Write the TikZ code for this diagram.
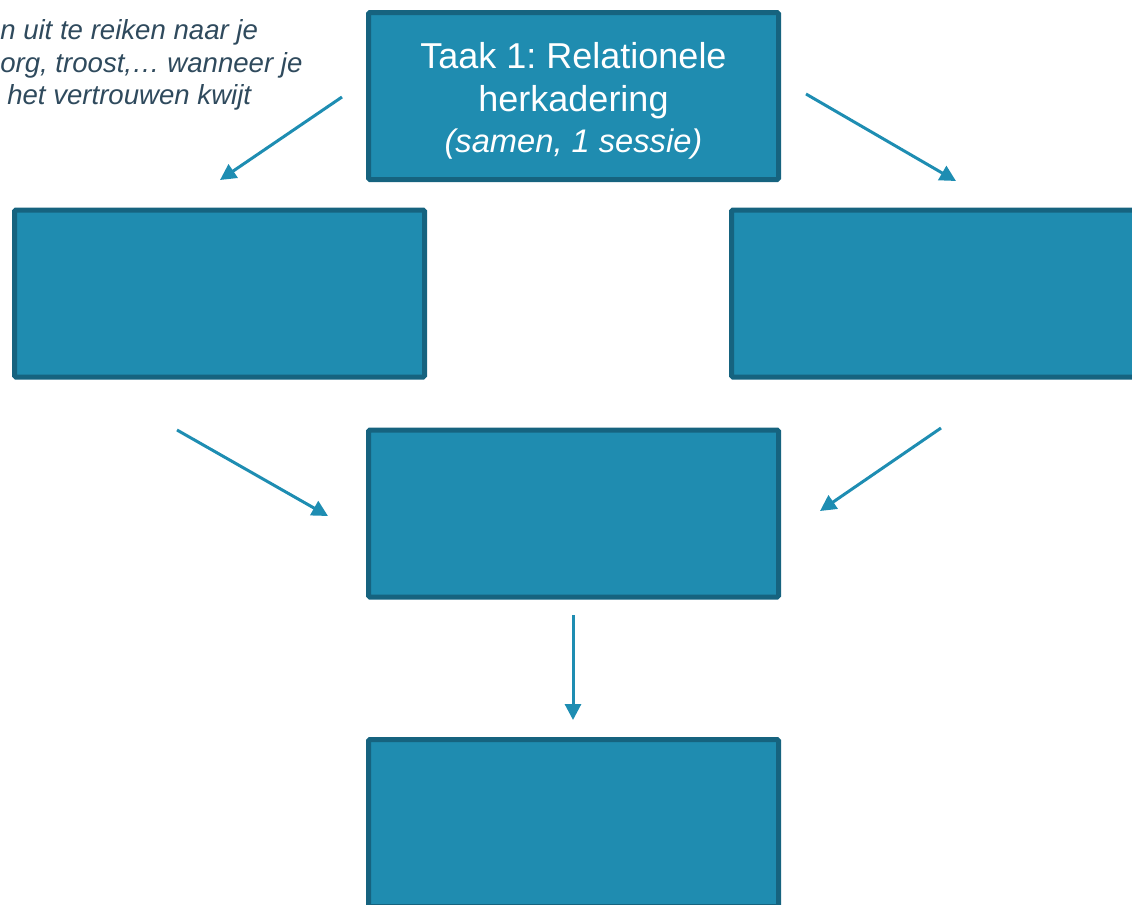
\documentclass[tikz,border=0pt]{standalone}
\usepackage{fontspec}
\setmainfont{Liberation Sans}
\usetikzlibrary{arrows.meta}
\definecolor{taakfill}{HTML}{1F8CB0}
\definecolor{taakrand}{HTML}{16637F}
\definecolor{pijlkleur}{HTML}{1E8DB2}
\definecolor{notitie}{HTML}{2F4A5D}
\frenchspacing

\begin{document}
\begin{tikzpicture}[x=0.75pt,y=0.75pt,yscale=-1,xscale=1,
    taak/.style={draw=taakrand, fill=taakfill, line width=3.75pt, rounded corners=1pt, minimum width=307.5pt, minimum height=125.25pt, inner sep=0pt, text=white, align=center, font=\fontsize{27}{32}\selectfont},
    pijl/.style={draw=pijlkleur, line width=2.25pt, -{Triangle[length=12pt,width=12pt]}}]
    \useasboundingbox (0,0) rectangle (1132,904);
    \clip (0,0) rectangle (1132,904);

    %Shape: Rectangle
    \node [taak] (taak1) at (573.5,96) {\rule{0pt}{27pt}Taak 1: Relationele\\herkadering\\[-1pt]{\itshape\fontsize{24.5}{29}\selectfont (samen, 1 sessie)}};
    %Shape: Rectangle
    \node [taak] (links) at (219.5,293.5) {};
    %Shape: Rectangle
    \node [taak] (rechts) at (936.5,293.5) {};
    %Shape: Rectangle
    \node [taak] (midden) at (573.5,513.5) {};
    %Shape: Rectangle
    \node [taak] (onder) at (573.5,823) {};

    % Text Node
    \node [anchor=north west, inner sep=0pt, align=left, text=notitie, font=\itshape\fontsize{20.7}{24.2}\selectfont] (notitie) at (0,19.5) {n uit te reiken naar je\\org, troost,\dots\ wanneer je\\\hspace*{5.25pt}het vertrouwen kwijt};

    %Straight Lines
    \coordinate (p1a) at (342,97);  \coordinate (p1b) at (220,180);
    \coordinate (p2a) at (806,94);  \coordinate (p2b) at (956,181);
    \coordinate (p3a) at (177,430); \coordinate (p3b) at (328,516);
    \coordinate (p4a) at (941,428); \coordinate (p4b) at (820,511);
    \coordinate (p5a) at (573,615); \coordinate (p5b) at (573,720);
    \draw [pijl] (p1a) -- (p1b);
    \draw [pijl] (p2a) -- (p2b);
    \draw [pijl] (p3a) -- (p3b);
    \draw [pijl] (p4a) -- (p4b);
    \draw [pijl] (p5a) -- (p5b);

\end{tikzpicture}
\end{document}
